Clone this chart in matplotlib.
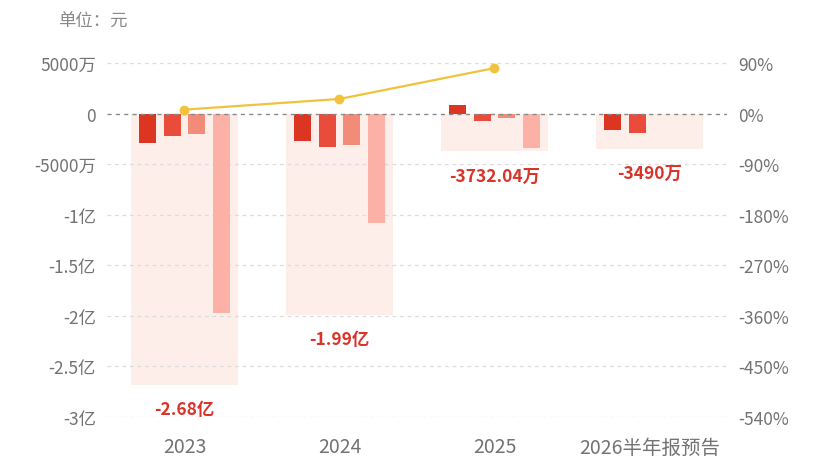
import matplotlib
matplotlib.use("Agg")
import matplotlib.pyplot as plt
import numpy as np

plt.rcParams['font.family'] = ['Noto Sans CJK SC', 'DejaVu Sans']

# ---- data (单位: 万元) ----
years = ["2023", "2024", "2025", "2026半年报预告"]
q1 = [-2895, -2737, 890, -1600]
q2 = [-2240, -3330, -760, -1890]
q3 = [-1976, -3063, -430, np.nan]
q4 = [-19689, -10770, -3432, np.nan]
annual = [-26800, -19900, -3732.04, -3490]
annual_labels = ["-2.68亿", "-1.99亿", "-3732.04万", "-3490万"]
growth = [7, 26, 81]  # %
left_ticks = [5000, 0, -5000, -10000, -15000, -20000, -25000, -30000]
left_tick_labels = ["5000万", "0", "-5000万", "-1亿", "-1.5亿", "-2亿", "-2.5亿", "-3亿"]
right_ticks = [90, 0, -90, -180, -270, -360, -450, -540]
right_tick_labels = ["90%", "0%", "-90%", "-180%", "-270%", "-360%", "-450%", "-540%"]

W = 1e4
fig = plt.figure(figsize=(8.2, 4.6), dpi=100)
ax = fig.add_axes([107/820, 42/460, 620/820, 354/460])
ax2 = ax.twinx()

x = np.arange(len(years))
colors = ["#dc3522", "#ea4c3c", "#f28b77", "#fbb1a5"]
bw = 0.11
step = 0.158

ax.bar(x, np.array(annual) * W, width=0.69, color="#fdeeea", zorder=0.5)
for i, (vals, c) in enumerate(zip([q1, q2, q3, q4], colors)):
    ax.bar(x + (i - 1.5) * step, np.array(vals, dtype=float) * W, width=bw, color=c, zorder=2)

for xi, v, lab in zip(x, annual, annual_labels):
    ax.text(xi, v * W - 2400 * W, lab, ha="center", va="center", color="#d9332a",
            fontsize=12.5, fontweight="bold", zorder=5)

ax.set_xlim(-0.5, len(years) - 0.5)
ax.set_ylim(-30000 * W, 5000 * W)
ax.set_yticks(np.array(left_ticks) * W)
ax.set_yticklabels(left_tick_labels)
ax.set_xticks(x)
ax.set_xticklabels(years)

ax2.set_ylim(-540, 90)
ax2.set_yticks(right_ticks)
ax2.set_yticklabels(right_tick_labels)
ax2.plot(x[:len(growth)], growth, color="#f0c23e", lw=1.6, marker="o", markersize=6, zorder=6)

for t in left_ticks:
    if t == 0:
        ax.axhline(0, color="#8a8a8a", lw=1.0, ls=(0, (3, 3)), zorder=3)
    else:
        ax.axhline(t * W, color="#dcdcdc", lw=0.9, ls=(0, (3, 3)), zorder=1)

for a in (ax, ax2):
    for s in a.spines.values():
        s.set_visible(False)
    a.tick_params(length=0, colors="#737373", labelsize=12.5)
ax.tick_params(axis="y", pad=8)
ax2.tick_params(axis="y", pad=8)
ax.tick_params(axis="x", pad=14, labelsize=14)
ax2.patch.set_visible(False)

fig.text(58/820, 1 - 22/460, "单位：元", ha="left", va="center", color="#888888", fontsize=12.5)

fig.savefig("out.png", dpi=100)
